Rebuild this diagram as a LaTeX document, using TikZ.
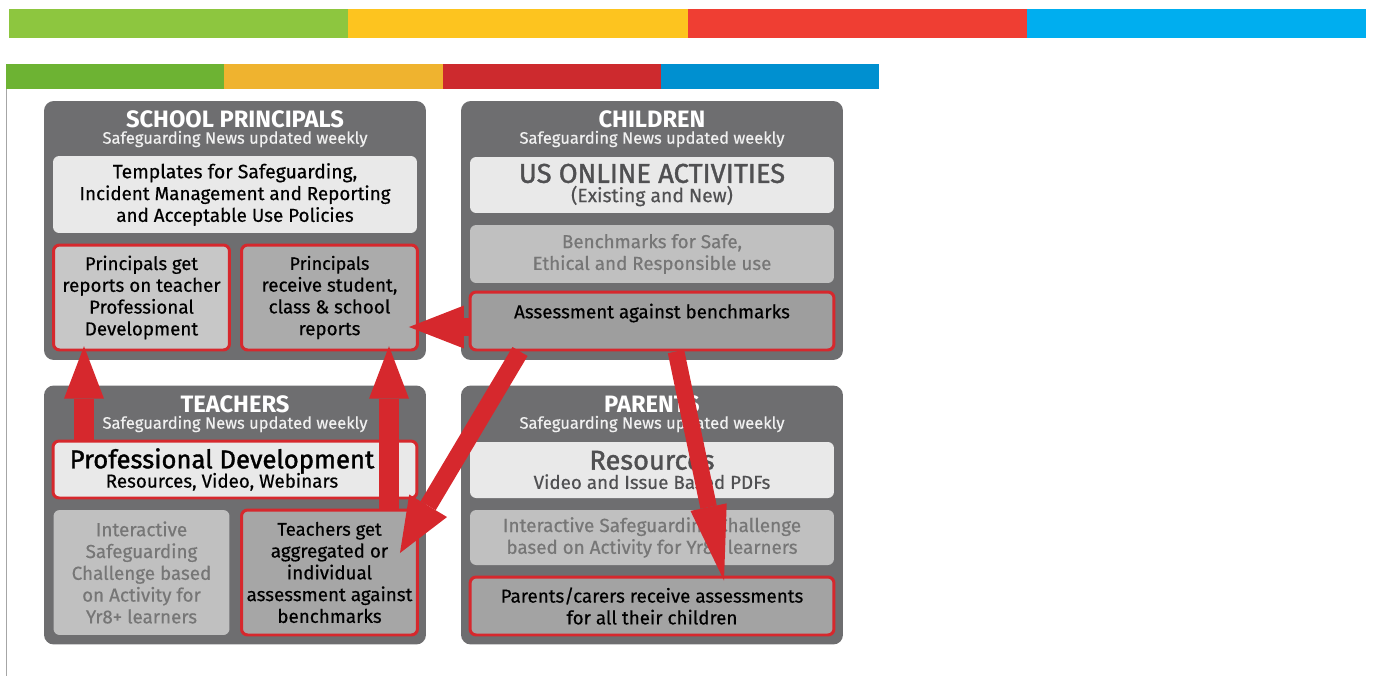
\documentclass[tikz,border=0pt]{standalone}
\usepackage{fontspec}
\setmainfont{Fira Sans}[UprightFeatures={FakeBold=0.45}]
\newfontfamily\heavyfont{Fira Sans}[UprightFeatures={FakeBold=1.4}]
\usetikzlibrary{arrows.meta,positioning,calc}

\definecolor{barGreen}{RGB}{141,198,63}
\definecolor{barYellow}{RGB}{253,196,31}
\definecolor{barRed}{RGB}{239,62,51}
\definecolor{barBlue}{RGB}{0,174,239}
\definecolor{stripGreen}{RGB}{109,179,51}
\definecolor{stripOrange}{RGB}{239,179,47}
\definecolor{stripRed}{RGB}{205,42,46}
\definecolor{stripBlue}{RGB}{0,144,208}
\definecolor{panelGray}{RGB}{110,110,112}
\definecolor{paleBox}{RGB}{233,233,233}
\definecolor{midBox}{RGB}{192,192,192}
\definecolor{midText}{RGB}{118,118,118}
\definecolor{darkText}{RGB}{80,80,82}
\definecolor{flowRed}{RGB}{214,40,45}

\newcommand{\heavy}[2][15.5]{{\heavyfont\fontsize{#1}{16}\selectfont #2}}

\tikzset{
  panel/.style={fill=panelGray, rounded corners=5.5pt, minimum width=7.64cm,
                minimum height=5.18cm, inner sep=0pt},
  ptitle/.style={text=white, font=\bfseries\fontsize{13.5}{15}\selectfont},
  psub/.style={text=white!94!black, font=\fontsize{9.4}{11}\selectfont},
  wide/.style={rounded corners=3.5pt, minimum width=7.28cm, align=center, inner sep=0pt},
  half/.style={rounded corners=3.5pt, minimum width=3.52cm, align=center, inner sep=0pt},
  pale/.style={fill=paleBox, text=black},
  muted/.style={fill=midBox, text=midText},
  hot/.style={draw=flowRed, line width=1.7pt, text=black},
  body/.style={font=\fontsize{10.7}{12.4}\selectfont},
  fat/.style={draw=flowRed, line width=11pt,
              -{Triangle[length=1.05cm, width=0.8cm, line width=0pt]}},
  slim/.style={draw=flowRed, line width=9.5pt,
               -{Triangle[length=1.2cm, width=0.8cm, line width=0pt]}}
}

\begin{document}
\begin{tikzpicture}[x=0.02cm, y=-0.02cm]
  \useasboundingbox (0,0) rectangle (1378,676);
  % colour bars
  \foreach \c [count=\i from 0] in {barGreen,barYellow,barRed,barBlue}
    \fill[\c] ({9+\i*339.25},9) rectangle ({9+(\i+1)*339.25},38);
  \foreach \c [count=\i from 0] in {stripGreen,stripOrange,stripRed,stripBlue}
    \fill[\c] ({6+\i*218.25},64) rectangle ({6+(\i+1)*218.25},89);
  \draw[black!35, line width=0.8pt] (6.5,89) -- (6.5,676);

  % the four panels
  \node[panel] (princ) at (235,230.5) {};
  \node[panel] (child) at (652,230.5) {};
  \node[panel] (teach) at (235,515) {};
  \node[panel] (parent) at (652,515) {};

  % school principals
  \node[ptitle] at (235,119) {SCHOOL PRINCIPALS};
  \node[psub] at (235,139) {Safeguarding News updated weekly};
  \node[wide, pale, body, minimum height=1.54cm] (tpl) at (235,194.5)
    {\fontsize{11}{12.2}\selectfont Templates for Safeguarding,\\Incident Management and Reporting\\and Acceptable Use Policies};
  \node[half, hot, body, fill=black!22, minimum height=2.1cm] (pdrep) at (141.5,297.5)
    {\fontsize{10.5}{12.4}\selectfont Principals get\\reports on teacher\\Professional\\Development};
  \node[half, hot, body, fill=black!33, minimum height=2.1cm] (strep) at (329.5,297.5)
    {\fontsize{10.2}{12.4}\selectfont Principals\\receive student,\\class \& school\\reports};

  % children
  \node[ptitle] at (652,119) {CHILDREN};
  \node[psub] at (652,139) {Safeguarding News updated weekly};
  \node[wide, pale, text=darkText, minimum height=1.12cm] (act) at (652,185)
    {\heavy{US ONLINE ACTIVITIES}\\[-1pt]{\fontsize{11}{12}\selectfont (Existing and New)}};
  \node[wide, muted, body, minimum height=1.16cm] (bench) at (652,254)
    {Benchmarks for Safe,\\Ethical and Responsible use};
  \node[wide, hot, body, fill=black!38, minimum height=1.16cm] (assess) at (652,321)
    {\fontsize{10.7}{12.5}\selectfont Assessment against benchmarks\\[-1pt] \mbox{}};

  % teachers
  \node[ptitle] at (235,404) {TEACHERS};
  \node[psub] at (235,424) {Safeguarding News updated weekly};
  \node[wide, pale, hot, minimum height=1.14cm] (pd) at (235,469.5)
    {\heavy[14.6]{Professional Development\hspace*{0.52cm}}\\[-1pt]%
     {\fontsize{10.7}{12}\selectfont Resources, Video, Webinars\hspace*{0.52cm}}};
  \node[half, muted, body, minimum height=2.5cm] (tchal) at (141.5,572.5)
    {\fontsize{10.8}{12.5}\selectfont Interactive\\Safeguarding\\Challenge based\\on Activity for\\Yr8+ learners};
  \node[half, hot, body, fill=black!35, minimum height=2.5cm] (tget) at (329.5,572.5)
    {\fontsize{10.5}{12.5}\selectfont Teachers get\\aggregated or\\individual\\assessment against\\benchmarks};

  % parents
  \node[ptitle] at (652,404) {PARENTS};
  \node[psub] at (652,424) {Safeguarding News updated weekly};
  \node[wide, pale, text=darkText, minimum height=1.12cm] (res) at (652,470)
    {\heavy{Resources}\\[-1pt]{\fontsize{10.7}{12}\selectfont Video and Issue Based PDFs}};
  \node[wide, muted, body, minimum height=1.1cm] (pchal) at (652,537.5)
    {\fontsize{10.8}{12}\selectfont Interactive Safeguarding Challenge\\based on Activity for Yr8+ learners};
  \node[wide, hot, body, fill=black!36, minimum height=1.16cm] (prcv) at (652,606)
    {\fontsize{10.7}{12}\selectfont Parents/carers receive assessments\\for all their children};

  % reporting flows
  \coordinate (colL) at (84,0);
  \coordinate (colR) at (389,0);
  \coordinate (rowA) at (0,327);
  \draw[fat] (pd.north -| colL) -- ([yshift=3pt]pdrep.south -| colL);
  \draw[fat] (tget.north -| colR) -- ([yshift=3pt]strep.south -| colR);
  \draw[fat, line width=10pt,
        -{Triangle[length=1.1cm, width=0.86cm, line width=0pt]}]
    (assess.west |- rowA) -- ([xshift=-0.2cm]strep.east |- rowA);
  \draw[slim, line width=10pt,
        -{Triangle[length=1.1cm, width=0.88cm, line width=0pt]}]
    ([xshift=-2.64cm]assess.south) -- ([xshift=-0.38cm, yshift=0.39cm]tget.east);
  \draw[slim, -{Triangle[length=1.5cm, width=0.74cm, line width=0pt]}]
    ([xshift=0.48cm]assess.south) -- ([xshift=1.44cm, yshift=-0.1cm]prcv.north);
\end{tikzpicture}
\end{document}
